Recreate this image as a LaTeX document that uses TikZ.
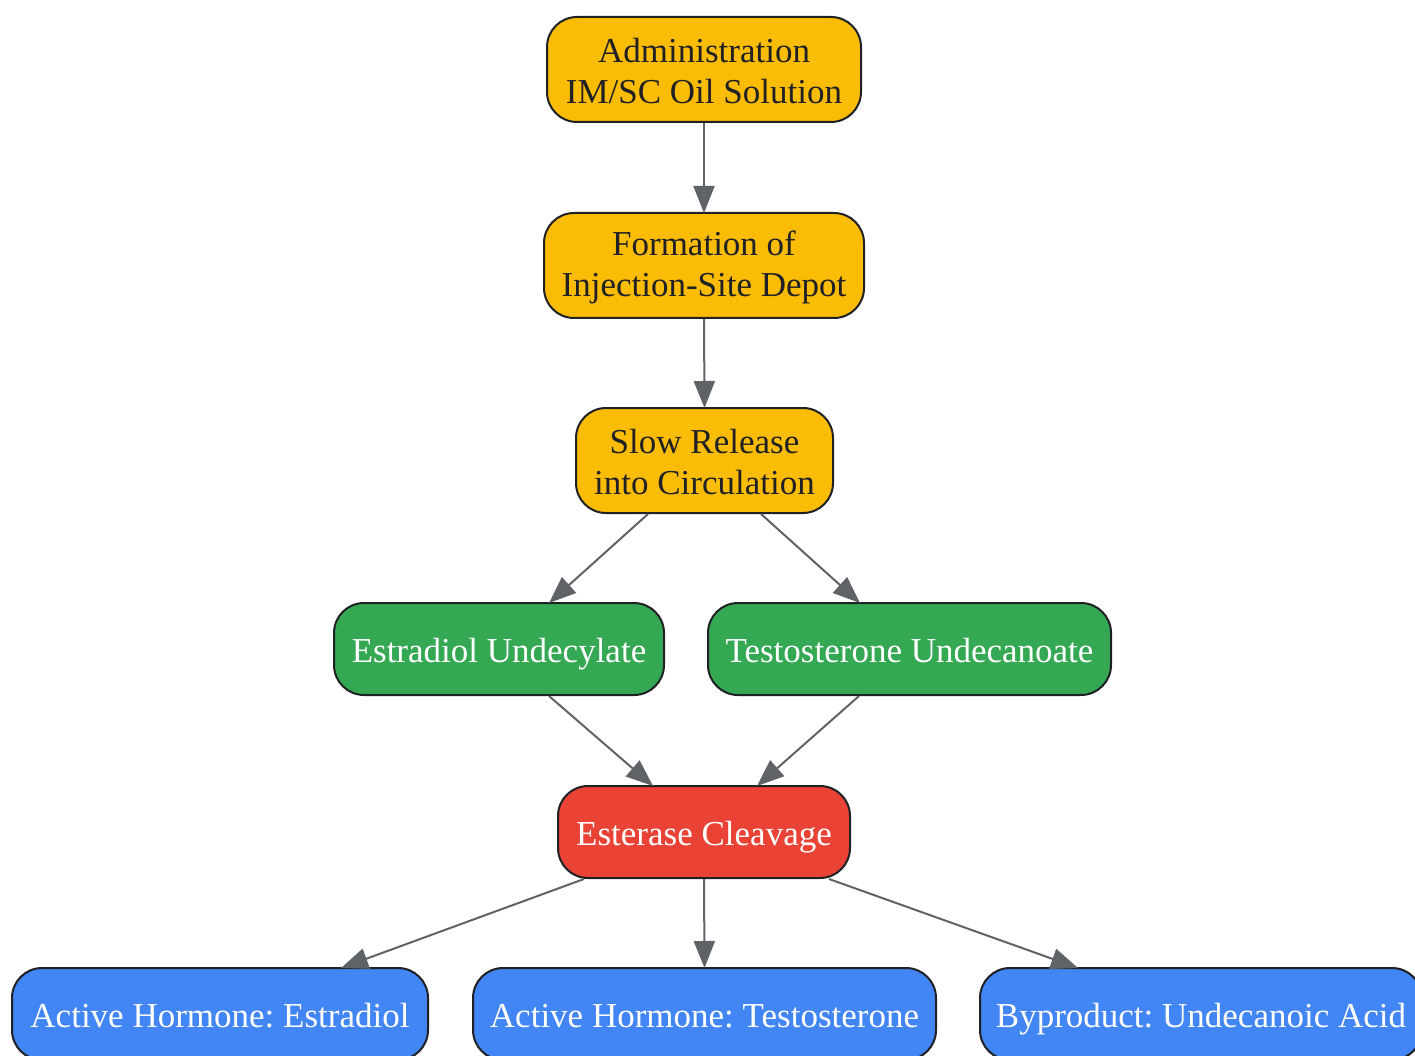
\documentclass[tikz,border=0pt]{standalone}
\usepackage{fontspec}
\setmainfont{Liberation Serif}
\usetikzlibrary{arrows.meta}
\frenchspacing
\definecolor{gyellow}{HTML}{FBBC05}
\definecolor{ggreen}{HTML}{34A853}
\definecolor{gred}{HTML}{EA4335}
\definecolor{gblue}{HTML}{4285F4}
\definecolor{gdark}{HTML}{202124}
\definecolor{garrow}{HTML}{5F6368}
\newcommand{\topstrut}{\rule{0pt}{28pt}}
\newcommand{\botstrut}{\rule[-1pt]{0pt}{1pt}}
\tikzset{
  box/.style={draw=gdark, line width=2pt, rounded corners=30pt, inner sep=0pt,
    font=\fontsize{35}{41}\selectfont\frenchspacing, align=center},
  yel/.style={box, fill=gyellow, text=gdark},
  one/.style={box, text height=28pt, text depth=2pt},
  grn/.style={one, fill=ggreen, text=white},
  rd/.style={one, fill=gred, text=white},
  blu/.style={one, fill=gblue, text=white},
  conn/.style={draw=garrow, line width=2pt, -{Triangle[length=27pt,width=21pt]}}
}
\begin{document}
\begin{tikzpicture}[x=1pt,y=-1pt]
\useasboundingbox (0,0) rectangle (1415,1056);
\node[yel, minimum width=314pt, minimum height=105pt] (A) at (704,69.5) {\topstrut Administration\\IM/SC Oil Solution\botstrut};
\node[yel, minimum width=320pt, minimum height=105pt] (B) at (704,265.5) {\topstrut Formation of\\Injection-Site Depot\botstrut};
\node[yel, minimum width=257pt, minimum height=105pt] (C) at (704.5,460.5) {\topstrut Slow Release\\into Circulation\botstrut};
\node[grn, minimum width=330pt, minimum height=92pt] (D) at (499,649) {Estradiol Undecylate};
\node[grn, minimum width=403pt, minimum height=92pt] (E) at (909.5,649) {Testosterone Undecanoate};
\node[rd, minimum width=292pt, minimum height=92pt] (F) at (704,832) {Esterase Cleavage};
\node[blu, minimum width=416pt, minimum height=92pt] (G) at (220,1014) {Active Hormone: Estradiol};
\node[blu, minimum width=463pt, minimum height=92pt] (H) at (704.5,1014) {Active Hormone: Testosterone};
\node[blu, minimum width=442pt, minimum height=92pt] (I) at (1201,1014) {Byproduct: Undecanoic Acid};
\draw[conn] (A.south) -- ([yshift=-1pt]B.north);
\draw[conn] (B.south) -- ([yshift=-1pt]C.north);
\draw[conn] ([xshift=-56.5pt]C.south) -- ([xshift=50pt,yshift=-1pt]D.north);
\draw[conn] ([xshift=56.5pt]C.south) -- ([xshift=-49.5pt,yshift=-1pt]E.north);
\draw[conn] ([xshift=50pt]D.south) -- ([xshift=-51pt,yshift=-1pt]F.north);
\draw[conn] ([xshift=-50.5pt]E.south) -- ([xshift=53pt,yshift=-1pt]F.north);
\draw[conn] ([xshift=-120pt]F.south) -- ([xshift=121pt,yshift=-1pt]G.north);
\draw[conn] (F.south) -- ([yshift=-1pt]H.north);
\draw[conn] ([xshift=125pt]F.south) -- ([xshift=-123pt,yshift=-1pt]I.north);
\end{tikzpicture}
\end{document}
